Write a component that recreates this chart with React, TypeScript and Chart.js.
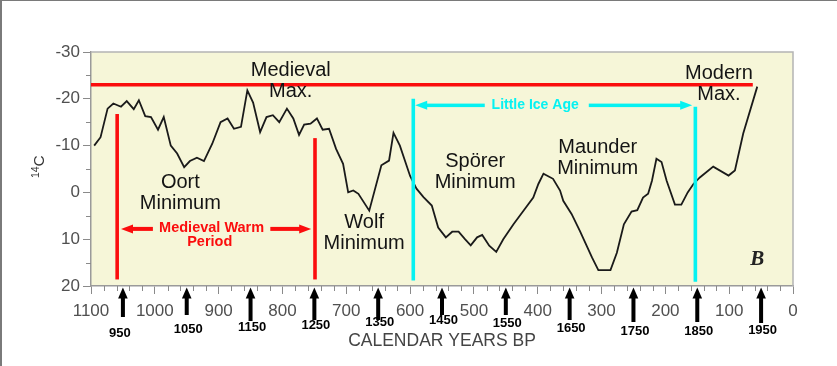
import React, { useEffect, useRef } from "react";
import { Chart, registerables } from "chart.js";

Chart.register(...registerables);

// ---------------- data ----------------
const yearsBP = [
  1095, 1085, 1074, 1065, 1053, 1044, 1033, 1025, 1015, 1006, 995, 986, 975, 965, 954, 945, 934, 923,
  910, 897, 886, 876, 865, 855, 846, 835, 825, 815, 805, 793, 783, 774, 766, 756, 746, 737, 727, 716,
  705, 697, 689, 681, 664, 645, 633, 626, 616, 600, 590, 579, 566, 556, 544, 534, 524, 514, 505, 495,
  487, 476, 465, 454, 438, 420, 407, 399, 391, 376, 365, 360, 347, 334, 315, 305, 286, 276, 265, 253,
  244, 235, 227, 221, 214, 206, 198, 185, 175, 165, 156, 146, 125, 101, 91, 78, 56,
];
const c14Anomaly = [
  -10.0, -11.8, -17.9, -19.0, -18.3, -19.5, -17.8, -19.7, -16.3, -16.1, -13.4, -16.1, -10.0, -8.3, -5.4, -6.7, -7.4, -6.7,
  -10.4, -15.0, -15.8, -13.6, -14.0, -21.8, -19.2, -12.9, -16.1, -16.5, -15.0, -17.9, -15.8, -12.3, -14.5, -14.7, -15.8, -13.4, -13.6, -9.3,
  -6.1, 0.0, -0.4, 0.3, 3.9, -5.8, -6.8, -12.7, -10.0, -3.5, -0.8, 1.0, 2.8, 7.5, 9.6, 8.4, 8.4, 10.0, 11.3, 9.6,
  9.1, 11.4, 12.7, 10.0, 6.8, 3.5, 1.1, -1.8, -4.0, -2.9, -0.4, 1.8, 4.6, 8.2, 13.9, 16.6, 16.6, 12.9, 6.8, 4.1,
  3.8, 1.1, 0.3, -2.5, -7.2, -6.5, -2.5, 2.6, 2.6, 0.0, -1.8, -3.2, -5.5, -3.6, -4.7, -12.6, -22.6,
];
const calendarYears = [950, 1050, 1150, 1250, 1350, 1450, 1550, 1650, 1750, 1850, 1950];
const calendarReferenceYear = 2000;
const medievalMaxLevel = -23;
const medievalMaxSpanBP = [1100, 63];
const medievalWarmPeriodBP = [1059, 749];
const littleIceAgeBP = [595, 153];
const xAxisTitle = "CALENDAR YEARS BP";
const yAxisTitle = ["14", "C"];
const periodNames = ["Medieval Warm", "Period", "Little Ice Age"];
const eventLabels = [
  ["Medieval", "Max."],
  ["Modern", "Max."],
  ["Oort", "Minimum"],
  ["Wolf", "Minimum"],
  ["Spörer", "Minimum"],
  ["Maunder", "Minimum"],
];
const panelLetter = "B";

// ---------------- styling / layout ----------------
const SANS = '"Liberation Sans", Arial, Helvetica, sans-serif';
const RED = "#fb0d0d";
const CYAN = "#06f2f2";
const BG = "#f6f6d8";
// anchor positions of the event labels (BP, value of first line)
const eventAnchors = [
  [787, -26.0],
  [116, -25.4],
  [960, -2.2],
  [672, 6.5],
  [498, -6.6],
  [306, -9.6],
];
const arrowLabelY = [333, 329, 327, 325, 322, 320, 323, 328, 331, 331, 330];
const arrowShaftEnd = [317, 315, 321, 320, 320, 315, 315, 320, 322, 322, 323];

function upArrow(ctx: CanvasRenderingContext2D, x: number, yTip: number, yEnd: number) {
  const headLen = 11, half = 4.8, shaft = 4;
  ctx.beginPath();
  ctx.moveTo(x, yTip);
  ctx.lineTo(x + half, yTip + headLen);
  ctx.lineTo(x - half, yTip + headLen);
  ctx.closePath();
  ctx.fill();
  ctx.fillRect(x - shaft / 2, yTip + headLen - 1, shaft, yEnd - (yTip + headLen - 1));
}

function hArrow(
  ctx: CanvasRenderingContext2D,
  xTipL: number, xGapL: number, xGapR: number, xTipR: number, y: number,
  shaft: number, headLen: number, half: number
) {
  ctx.beginPath();
  ctx.moveTo(xTipL, y);
  ctx.lineTo(xTipL + headLen, y - half);
  ctx.lineTo(xTipL + headLen, y + half);
  ctx.closePath();
  ctx.fill();
  ctx.fillRect(xTipL + headLen - 1, y - shaft / 2, xGapL - (xTipL + headLen - 1), shaft);
  ctx.beginPath();
  ctx.moveTo(xTipR, y);
  ctx.lineTo(xTipR - headLen, y - half);
  ctx.lineTo(xTipR - headLen, y + half);
  ctx.closePath();
  ctx.fill();
  ctx.fillRect(xGapR, y - shaft / 2, xTipR - headLen + 1 - xGapR, shaft);
}

const decorPlugin = {
  id: "decor",
  beforeDraw(chart: any) {
    const { ctx, chartArea: a } = chart;
    ctx.save();
    ctx.fillStyle = "#ffffff";
    ctx.fillRect(0, 0, chart.width, chart.height);
    ctx.fillStyle = "#7a7a7a";
    ctx.fillRect(0, 0, 2, chart.height);
    ctx.fillRect(0, 0, chart.width, 1);
    ctx.fillStyle = BG;
    ctx.fillRect(a.left, a.top, a.right - a.left, a.bottom - a.top);
    ctx.restore();
  },
  afterDatasetsDraw(chart: any) {
    const { ctx } = chart;
    const xs = chart.scales.x, ys = chart.scales.y;
    const X = (v: number) => xs.getPixelForValue(v);
    const Y = (v: number) => ys.getPixelForValue(v);
    ctx.save();

    // Medieval max line
    ctx.strokeStyle = RED;
    ctx.lineWidth = 3.5;
    ctx.beginPath();
    ctx.moveTo(X(medievalMaxSpanBP[0]), Y(medievalMaxLevel));
    ctx.lineTo(X(medievalMaxSpanBP[1]), Y(medievalMaxLevel));
    ctx.stroke();

    // period bounds
    const vline = (bp: number, v0: number, v1: number, color: string) => {
      ctx.strokeStyle = color;
      ctx.lineWidth = 3.6;
      ctx.beginPath();
      ctx.moveTo(X(bp), Y(v0));
      ctx.lineTo(X(bp), Y(v1));
      ctx.stroke();
    };
    vline(medievalWarmPeriodBP[0], -16.75, 18.6, RED);
    vline(medievalWarmPeriodBP[1], -11.6, 18.6, RED);
    vline(littleIceAgeBP[0], -20.0, 18.8, CYAN);
    vline(littleIceAgeBP[1], -18.3, 19.1, CYAN);

    // period arrows
    ctx.fillStyle = RED;
    hArrow(ctx, X(1053), X(1003), X(819), X(755), Y(7.8), 4, 12, 4.5);
    ctx.fillStyle = CYAN;
    hArrow(ctx, X(592), X(483), X(320), X(158), Y(-18.6), 3.5, 12, 4.5);

    // period names
    ctx.textAlign = "center";
    ctx.textBaseline = "middle";
    ctx.fillStyle = RED;
    ctx.font = `bold 14.5px ${SANS}`;
    ctx.fillText(periodNames[0], X(911), Y(7.5));
    ctx.fillText(periodNames[1], X(914), Y(7.5) + 14.6);
    ctx.fillStyle = CYAN;
    ctx.font = `bold 14px ${SANS}`;
    ctx.fillText(periodNames[2], X(404), Y(-18.7));

    // event labels
    ctx.fillStyle = "#141414";
    ctx.font = `20px ${SANS}`;
    eventLabels.forEach((lines, i) => {
      const [bp, v] = eventAnchors[i];
      lines.forEach((t, j) => ctx.fillText(t, X(bp), Y(v) + j * 21));
    });

    // panel letter
    ctx.fillStyle = "#222";
    ctx.font = `italic bold 21px "Liberation Serif", "Times New Roman", serif`;
    ctx.fillText(panelLetter, X(56), Y(14.4));

    ctx.restore();
  },
  afterDraw(chart: any) {
    const { ctx, chartArea: a } = chart;
    const xs = chart.scales.x, ys = chart.scales.y;
    const X = (v: number) => xs.getPixelForValue(v);
    const Y = (v: number) => ys.getPixelForValue(v);
    ctx.save();

    // frame top/right
    ctx.strokeStyle = "#b4b4b4";
    ctx.lineWidth = 1.5;
    ctx.beginPath();
    ctx.moveTo(a.left, a.top);
    ctx.lineTo(a.right, a.top);
    ctx.lineTo(a.right, a.bottom);
    ctx.stroke();

    // minor ticks
    ctx.strokeStyle = "#8a8a8a";
    ctx.lineWidth = 1;
    ctx.beginPath();
    for (let v = 20; v < 1100; v += 20) {
      if (v % 100 === 0) continue;
      const x = Math.round(X(v)) + 0.5;
      ctx.moveTo(x, a.bottom);
      ctx.lineTo(x, a.bottom + 5);
    }
    for (let v = -25; v < 20; v += 10) {
      const y = Math.round(Y(v)) + 0.5;
      ctx.moveTo(a.left - 5, y);
      ctx.lineTo(a.left, y);
    }
    ctx.stroke();

    // calendar year arrows
    ctx.fillStyle = "#000";
    ctx.textAlign = "center";
    ctx.textBaseline = "middle";
    ctx.font = `bold 13px ${SANS}`;
    calendarYears.forEach((yr, i) => {
      const x = X(calendarReferenceYear - yr);
      upArrow(ctx, x, a.bottom + 1.5, arrowShaftEnd[i]);
      ctx.fillText(String(yr), x + (i === 0 ? -3 : 1.5), arrowLabelY[i]);
    });

    // y axis title 14C
    ctx.save();
    ctx.translate(44, 165);
    ctx.rotate(-Math.PI / 2);
    ctx.fillStyle = "#333";
    ctx.textBaseline = "alphabetic";
    ctx.textAlign = "left";
    ctx.font = `10.5px ${SANS}`;
    ctx.fillText(yAxisTitle[0], -13, -5);
    ctx.font = `15.5px ${SANS}`;
    ctx.fillText(yAxisTitle[1], -1.5, 0);
    ctx.restore();

    ctx.restore();
  },
};

export default function App() {
  const canvasRef = useRef<HTMLCanvasElement | null>(null);

  useEffect(() => {
    const canvas = canvasRef.current;
    if (!canvas) return;
    const tickFont = { family: SANS, size: 17 };
    const chart = new Chart(canvas, {
      type: "line",
      data: {
        datasets: [
          {
            data: yearsBP.map((bp, i) => ({ x: bp, y: c14Anomaly[i] })),
            borderColor: "#1a1a1a",
            borderWidth: 1.8,
            pointRadius: 0,
            tension: 0,
            fill: false,
          },
        ],
      },
      options: {
        animation: false,
        responsive: false,
        maintainAspectRatio: false,
        events: [],
        layout: { padding: { top: 52, right: 44, left: 0, bottom: 0 } },
        plugins: { legend: { display: false }, tooltip: { enabled: false } },
        scales: {
          x: {
            type: "linear",
            reverse: true,
            min: 0,
            max: 1100,
            ticks: {
              stepSize: 100,
              autoSkip: false,
              maxRotation: 0,
              padding: 7,
              color: "#505050",
              font: tickFont,
              callback: (v: any) => String(v),
            },
            grid: { display: true, drawOnChartArea: false, drawTicks: true, tickLength: 8, color: "#8a8a8a", lineWidth: 1 },
            border: { display: true, color: "#9a9a9a", width: 1.5 },
            title: {
              display: true,
              text: xAxisTitle,
              color: "#444",
              font: { family: SANS, size: 17.5 },
              padding: { top: 0, bottom: 14 },
            },
            afterFit: (s: any) => {
              s.height = 80;
            },
          },
          y: {
            type: "linear",
            reverse: true,
            min: -30,
            max: 20,
            ticks: {
              stepSize: 10,
              padding: 3,
              color: "#505050",
              font: tickFont,
            },
            grid: { display: true, drawOnChartArea: false, drawTicks: true, tickLength: 8, color: "#8a8a8a", lineWidth: 1 },
            border: { display: true, color: "#9a9a9a", width: 1.5 },
            afterFit: (s: any) => {
              s.width = 91;
            },
          },
        },
      } as any,
      plugins: [decorPlugin as any],
    });
    return () => chart.destroy();
  }, []);

  return (
    <div style={{ position: "fixed", left: 0, top: 0, width: 837, height: 366, background: "#fff" }}>
      <canvas ref={canvasRef} width={837} height={366} style={{ display: "block", width: 837, height: 366 }} />
    </div>
  );
}
